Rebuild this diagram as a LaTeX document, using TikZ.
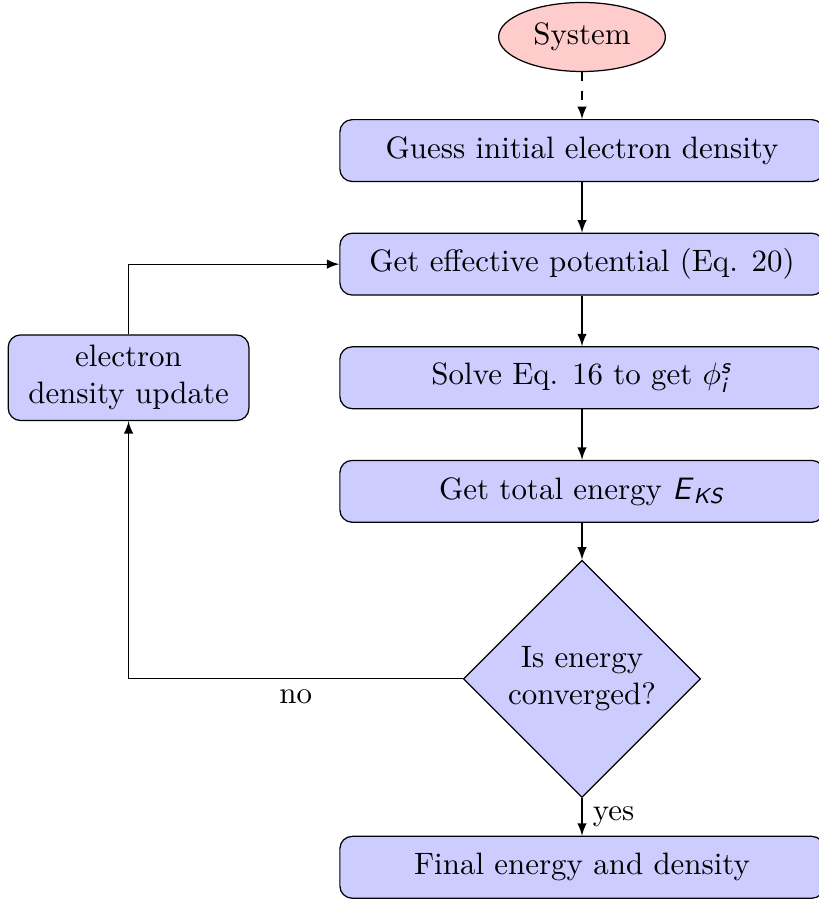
\documentclass[tikz,border=0pt]{standalone}
\usepackage{tikz}
\usetikzlibrary{arrows.meta,positioning,shapes.geometric}
\usepackage{amsmath,amssymb}
\usepackage{xcolor}
\newcommand{\sfit}[1]{\textsf{\textit{#1}}}
\tikzset{
  box/.style      = {draw,rounded corners=4pt,fill=blue!20,
                     minimum width=5.5cm,minimum height=2em,align=center},
  sidebox/.style  = {draw,rounded corners=4pt,fill=blue!20,
                     text width=2.5cm,align=center},
  sysnode/.style  = {draw,ellipse,fill=red!20},
  decision/.style = {draw,diamond,aspect=1,fill=blue!20,align=center,inner sep=2pt},
  arrow/.style    = {->,>=latex},
  dasharrow/.style= {->,>=latex,dashed},
}

\begin{document}
\begin{tikzpicture}[node distance=1.29cm,on grid]
  \useasboundingbox (-6.61,0.42) rectangle (2.69,-9.79);
  \node[sysnode] (sys) {System};
  \node[box,below=of sys] (guess) {Guess initial electron density};
  \node[box,below=of guess] (pot) {Get effective potential (Eq. 20)};
  \node[box,below=of pot] (sol) {Solve Eq. 16 to get $\phi_{\sfit{i}}^{\sfit{s}}$};
  \node[box,below=of sol] (en) {Get total energy \sfit{E}$_{\sfit{KS}}$};
  \node[decision,below=2.13cm of en] (conv) {Is energy\\converged?};
  \node[box,below=2.14cm of conv] (fin) {Final energy and density};
  \node[sidebox,left=5.15cm of sol] (upd) {electron\\density update};

  \draw[dasharrow] (sys) -- (guess);
  \draw[arrow] (guess) -- (pot);
  \draw[arrow] (pot) -- (sol);
  \draw[arrow] (sol) -- (en);
  \draw[arrow] (en) -- (conv);
  \draw[arrow] (conv) -- node[right] {yes} (fin);
  \draw[arrow] (conv.west) -| node[pos=0.25,below] {no} (upd.south);
  \draw[arrow] (upd.north) |- (pot.west);
\end{tikzpicture}
\end{document}
